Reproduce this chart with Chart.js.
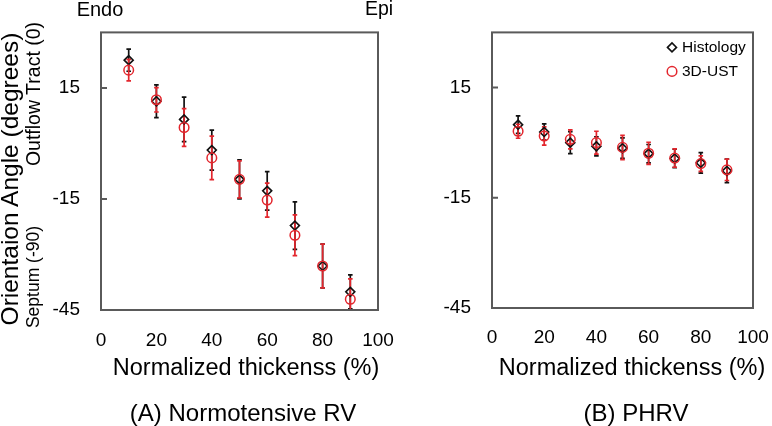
<!DOCTYPE html>
<html>
<head>
<meta charset="utf-8">
<script src="https://cdn.jsdelivr.net/npm/chart.js@4.4.1/dist/chart.umd.min.js"></script>
<style>
  body { margin: 0; background: #fff; }
  #wrap { position: relative; width: 772px; height: 426px; overflow: hidden;
          font-family: "Liberation Sans", Arial, sans-serif; color: #000; }
  #wrap canvas { position: absolute; top: 0; }
  .lbl { position: absolute; white-space: nowrap; line-height: 1;
         transform: translate(-50%, -50%); }
  .rot { transform: translate(-50%, -50%) rotate(-90deg); }
</style>
</head>
<body>
<div id="wrap">
  <canvas id="rvChart" width="400" height="426" style="left:0"></canvas>
  <canvas id="phChart" width="386" height="426" style="left:386px"></canvas>

  <div class="lbl rot" style="left:10px;top:179px;font-size:24.5px">Orientaion Angle (degrees)</div>
  <div class="lbl rot" style="left:34px;top:277px;font-size:17.5px">Septum (-90)</div>
  <div class="lbl rot" style="left:34px;top:94px;font-size:19.5px">Outflow Tract (0)</div>

  <div class="lbl" style="left:100px;top:9px;font-size:20px">Endo</div>
  <div class="lbl" style="left:379px;top:9px;font-size:19.5px">Epi</div>

  <div class="lbl" style="left:246px;top:368px;font-size:23.5px">Normalized thickenss (%)</div>
  <div class="lbl" style="left:632px;top:368px;font-size:23.5px">Normalized thickenss (%)</div>
  <div class="lbl" style="left:243px;top:413px;font-size:24px">(A) Normotensive RV</div>
  <div class="lbl" style="left:636px;top:413px;font-size:24px">(B) PHRV</div>
</div>

<script>
// values
const thickness = [10, 20, 30, 40, 50, 60, 70, 80, 90];
const xTicks = [0, 20, 40, 60, 80, 100];
const yTicks = [-45, -15, 15];

const rvHisto    = [22.5, 11.4, 6.5, -1.8, -9.7, -12.8, -22.2, -33.1, -40.1];
const rvHistoErr = [3.0, 4.4, 6.0, 5.4, 5.3, 5.2, 6.4, 5.9, 4.6];
const rvUst      = [19.8, 11.8, 4.3, -3.9, -9.7, -15.3, -24.8, -33.1, -42.1];
const rvUstErr   = [2.9, 3.3, 5.1, 5.9, 5.0, 4.6, 5.5, 5.9, 5.5];

const phHisto    = [4.9, 2.9, 0.0, -1.0, -1.5, -3.0, -4.3, -5.5, -7.7];
const phHistoErr = [2.4, 2.2, 3.0, 2.6, 2.8, 2.5, 2.5, 2.8, 3.2];
const phUst      = [3.1, 1.8, 0.9, 0.0, -1.3, -2.9, -4.2, -5.7, -7.4];
const phUstErr   = [1.9, 2.5, 2.6, 3.1, 3.3, 3.0, 2.5, 2.1, 2.9];

const RED = '#e3262d';
const BLACK = '#111111';
const FRAME = '#5a5a5a';
const FONT = '"Liberation Sans", Arial, sans-serif';

const pts = (ys) => thickness.map((x, i) => ({ x: x, y: ys[i] }));

// vertical error bars, drawn under the markers
const errorBars = {
    id: 'errorBars',
    beforeDatasetsDraw(chart) {
        const { ctx, chartArea, scales: { x, y } } = chart;
        ctx.save();
        ctx.beginPath();
        ctx.rect(chartArea.left, chartArea.top - 1, chartArea.width, chartArea.height + 1);
        ctx.clip();
        chart.data.datasets.forEach(ds => {
            ctx.strokeStyle = ds.borderColor;
            ctx.lineWidth = 1.7;
            ds.data.forEach((p, i) => {
                const px = x.getPixelForValue(p.x);
                const top = y.getPixelForValue(p.y + ds.errors[i]);
                const bot = y.getPixelForValue(p.y - ds.errors[i]);
                ctx.beginPath();
                ctx.moveTo(px, top); ctx.lineTo(px, bot);
                ctx.moveTo(px - 2.3, top); ctx.lineTo(px + 2.3, top);
                ctx.moveTo(px - 2.3, bot); ctx.lineTo(px + 2.3, bot);
                ctx.stroke();
            });
        });
        ctx.restore();
    }
};

// box around the plot plus short inward ticks on the y axis
const frame = {
    id: 'frame',
    afterDatasetsDraw(chart) {
        const { ctx, chartArea: a, scales: { y } } = chart;
        ctx.save();
        ctx.strokeStyle = FRAME;
        ctx.lineWidth = 2;
        ctx.strokeRect(a.left, a.top, a.width, a.height);
        ctx.beginPath();
        yTicks.forEach(v => {
            const py = y.getPixelForValue(v);
            ctx.moveTo(a.left, py); ctx.lineTo(a.left + 6, py);
        });
        ctx.stroke();
        ctx.restore();
    }
};

// small stacked legend in the top right corner of the plot
const cornerLegend = {
    id: 'cornerLegend',
    afterDraw(chart, args, opts) {
        if (!opts.show) return;
        const { ctx, chartArea: a } = chart;
        const items = [...chart.data.datasets].sort((p, q) => q.order - p.order);
        ctx.save();
        ctx.font = '15.5px ' + FONT;
        ctx.textBaseline = 'middle';
        items.forEach((ds, i) => {
            const yy = a.top + 15 + i * 24;
            ctx.fillStyle = 'rgba(0,0,0,0)';
            ctx.strokeStyle = ds.borderColor;
            ctx.lineWidth = ds.pointBorderWidth;
            Chart.helpers.drawPoint(ctx, {
                pointStyle: ds.pointStyle, radius: ds.pointRadius,
                borderWidth: ds.pointBorderWidth, rotation: 0
            }, a.right - 81, yy);
            ctx.fillStyle = '#000';
            ctx.fillText(ds.label, a.right - 71, yy);
        });
        ctx.restore();
    }
};

function makeChart(id, histo, histoErr, ust, ustErr, opt) {
    return new Chart(document.getElementById(id), {
        type: 'scatter',
        data: {
            datasets: [
                {
                    label: 'Histology', data: pts(histo), errors: histoErr, order: 1,
                    pointStyle: 'rectRot', pointRadius: 4.5, pointBorderWidth: 1.6,
                    borderColor: BLACK, backgroundColor: 'rgba(0,0,0,0)'
                },
                {
                    label: '3D-UST', data: pts(ust), errors: ustErr, order: 0,
                    pointStyle: 'circle', pointRadius: 4.8, pointBorderWidth: 1.5,
                    borderColor: RED, backgroundColor: 'rgba(0,0,0,0)'
                }
            ]
        },
        options: {
            responsive: false,
            animation: false,
            events: [],
            layout: { padding: { top: opt.top, right: opt.right, left: 0, bottom: 0 } },
            plugins: {
                legend: { display: false },
                tooltip: { enabled: false },
                cornerLegend: { show: opt.legend }
            },
            scales: {
                x: {
                    type: 'linear', min: 0, max: 100,
                    afterBuildTicks: s => { s.ticks = xTicks.map(v => ({ value: v })); },
                    afterFit: s => {
                        s.height = 426 - opt.bottom;
                        s.paddingLeft = 0;
                        s.paddingRight = 0;
                    },
                    grid: { display: false, drawTicks: false },
                    border: { display: false },
                    ticks: { padding: opt.xPad, color: '#000', font: { family: FONT, size: 19 } }
                },
                y: {
                    min: -45, max: 30,
                    afterBuildTicks: s => { s.ticks = yTicks.map(v => ({ value: v })); },
                    afterFit: s => { s.width = opt.yWidth; },
                    grid: { display: false, drawTicks: false },
                    border: { display: false },
                    ticks: { padding: 21, color: '#000', font: { family: FONT, size: 19 } }
                }
            }
        },
        plugins: [errorBars, frame, cornerLegend]
    });
}

makeChart('rvChart', rvHisto, rvHistoErr, rvUst, rvUstErr,
    { top: 25, right: 22, bottom: 310, yWidth: 101, xPad: 19, legend: false });
makeChart('phChart', phHisto, phHistoErr, phUst, phUstErr,
    { top: 24, right: 19, bottom: 308, yWidth: 106, xPad: 18, legend: true });
</script>
</body>
</html>
